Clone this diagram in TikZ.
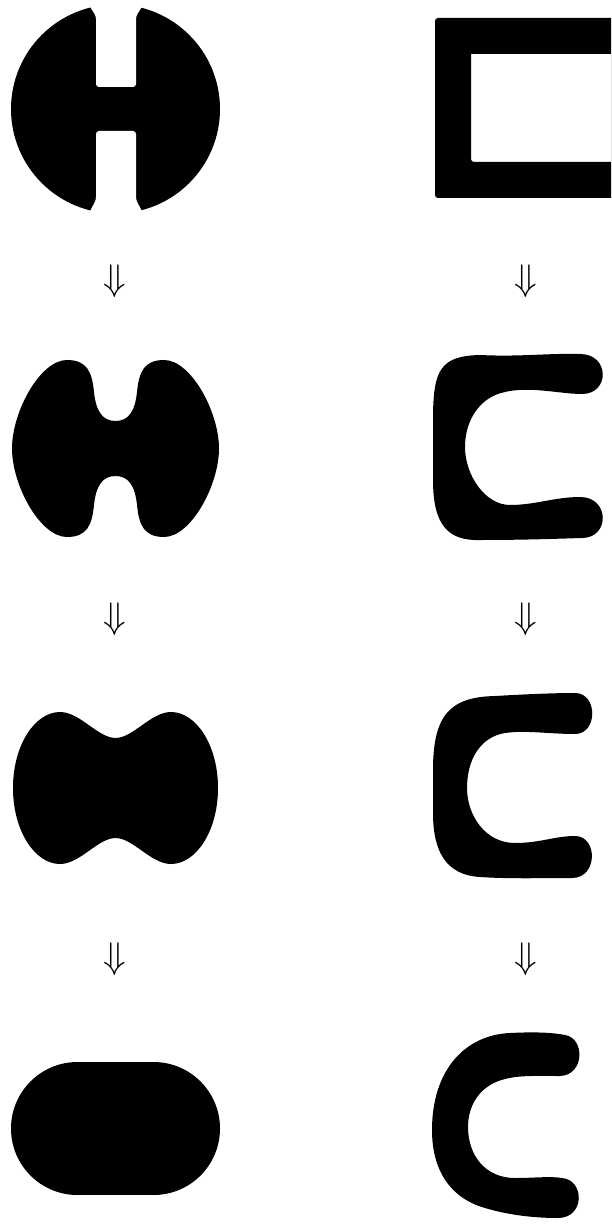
\documentclass[tikz,border=0pt]{standalone}
\begin{document}
\begin{tikzpicture}[x=0.5pt,y=-0.5pt,
  blob/.style={fill=black},
  arr/.style={inner sep=0pt,scale=1.85}]
\useasboundingbox (0,0) rectangle (611,1224);

% ---- row 1 left: circle with H slots
\fill[blob] (115.5,109) circle[radius=104.5];
\fill[white,rounded corners=1.5pt] (87,-4) -- (90,7) -- (96,16) -- (96,87) -- (136,87) -- (136,16) -- (142,7) -- (145,-4) -- cycle;
\fill[white,rounded corners=1.5pt] (87,222) -- (90,211) -- (96,200) -- (96,131) -- (136,131) -- (136,200) -- (142,211) -- (145,222) -- cycle;

% ---- row 1 right: frame
\fill[blob,even odd rule] (611,18) -- (437,18) [rounded corners=1.5pt] -- (435,18) -- (435,198) [sharp corners] -- (611,198) -- cycle
  (611,54) -- (471,54) [rounded corners=1.5pt] -- (471,54) -- (471,162) [sharp corners] -- (611,162) -- cycle;

% ---- row 2 left
\fill[blob] (12,448.5)
  .. controls (12,412) and (40,360) .. (67,360)
  .. controls (87,360) and (92,372) .. (94,392)
  .. controls (96,412) and (103,421) .. (115.5,421)
  .. controls (128,421) and (135,412) .. (137,392)
  .. controls (139,372) and (144,360) .. (164,360)
  .. controls (191,360) and (219,412) .. (219,448.5)
  .. controls (219,485) and (191,537) .. (164,537)
  .. controls (144,537) and (139,525) .. (137,505)
  .. controls (135,485) and (128,476) .. (115.5,476)
  .. controls (103,476) and (96,485) .. (94,505)
  .. controls (92,525) and (87,537) .. (67,537)
  .. controls (40,537) and (12,485) .. (12,448.5) -- cycle;

% ---- row 2 right
\fill[blob] (433,420)
  .. controls (433,370) and (440,356) .. (480,355)
  .. controls (520,357) and (550,353) .. (580,354)
  .. controls (610,354) and (610,394) .. (582,394)
  .. controls (560,394) and (530,386) .. (505,392)
  .. controls (480,397) and (465,420) .. (465,447)
  .. controls (465,475) and (485,505) .. (510,505)
  .. controls (535,505) and (555,497) .. (580,497)
  .. controls (610,497) and (610,538) .. (582,538)
  .. controls (550,539) and (520,540) .. (480,540)
  .. controls (448,541) and (433,525) .. (433,480) -- cycle;

% ---- row 3 left
\fill[blob] (13,788)
  .. controls (13,745) and (35,712) .. (60,712)
  .. controls (80,712) and (98,738) .. (115.5,738)
  .. controls (133,738) and (151,712) .. (171,712)
  .. controls (196,712) and (218,745) .. (218,788)
  .. controls (218,831) and (196,864) .. (171,864)
  .. controls (151,864) and (133,838) .. (115.5,838)
  .. controls (98,838) and (80,864) .. (60,864)
  .. controls (35,864) and (13,831) .. (13,788) -- cycle;

% ---- row 3 right
\fill[blob] (433,770)
  .. controls (433,715) and (450,697) .. (495,696)
  .. controls (530,694) and (555,693) .. (575,693)
  .. controls (598,693) and (598,734) .. (575,734)
  .. controls (550,734) and (525,730) .. (505,733)
  .. controls (480,737) and (467,760) .. (467,788)
  .. controls (467,815) and (485,843) .. (515,843)
  .. controls (540,843) and (555,836) .. (575,836)
  .. controls (598,836) and (598,878) .. (572,878)
  .. controls (540,878) and (510,879) .. (480,877)
  .. controls (445,875) and (433,850) .. (433,813) -- cycle;

% ---- row 4 left
\fill[blob] (77.5,1128.5) circle[radius=66.5];
\fill[blob] (153.5,1128.5) circle[radius=66.5];
\fill[blob] (77.5,1062) rectangle (153.5,1195);

% ---- row 4 right
\fill[blob] (432,1130)
  .. controls (432,1070) and (465,1035) .. (510,1033)
  .. controls (530,1032) and (550,1032) .. (565,1035)
  .. controls (585,1038) and (585,1075) .. (560,1076)
  .. controls (540,1076) and (520,1075) .. (505,1079)
  .. controls (480,1085) and (468,1105) .. (468,1127)
  .. controls (468,1155) and (485,1178) .. (515,1178)
  .. controls (535,1178) and (550,1176) .. (562,1178)
  .. controls (585,1180) and (585,1218) .. (558,1218)
  .. controls (530,1218) and (505,1214) .. (485,1208)
  .. controls (450,1198) and (432,1170) .. (432,1130) -- cycle;

% ---- arrows
\node[arr] (a1) at (115,281.5) {$\Downarrow$};
\node[arr] (a2) at (525.5,281.5) {$\Downarrow$};
\node[arr] (a3) at (115,619.5) {$\Downarrow$};
\node[arr] (a4) at (525.5,619.5) {$\Downarrow$};
\node[arr] (a5) at (115,959) {$\Downarrow$};
\node[arr] (a6) at (525.5,959) {$\Downarrow$};
\end{tikzpicture}
\end{document}
